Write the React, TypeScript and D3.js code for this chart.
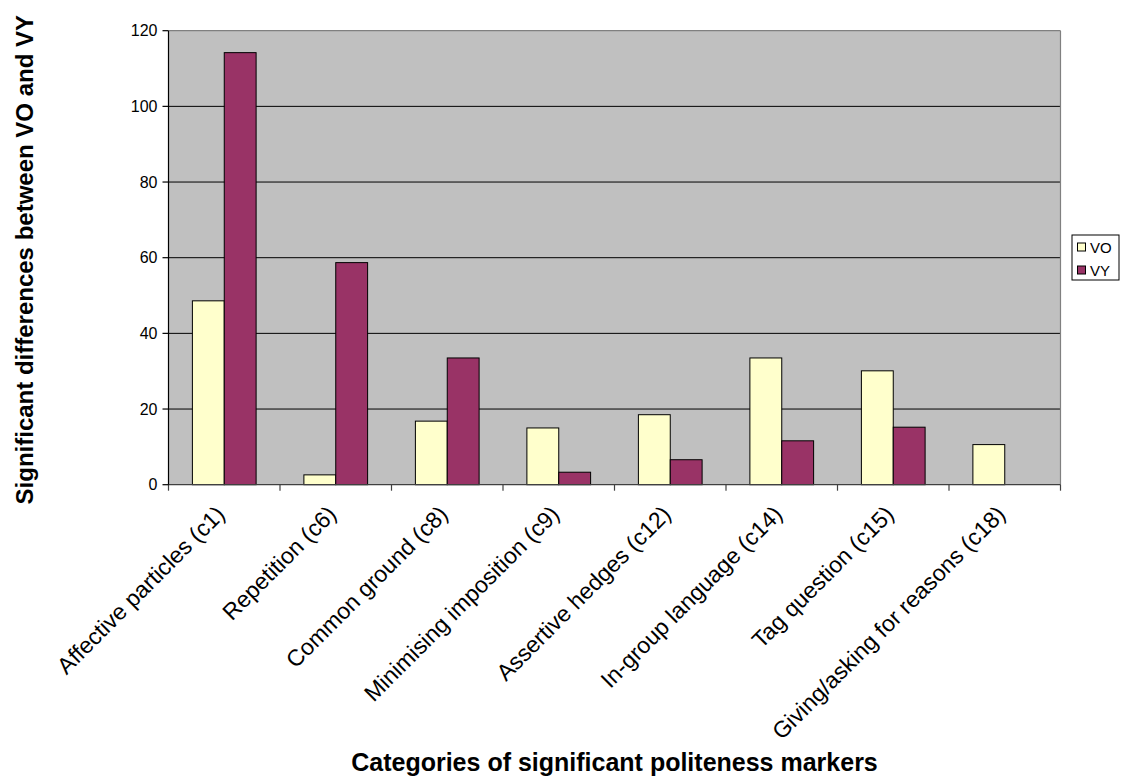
import React from "react";
import * as d3 from "d3";

const categories = [
  "Affective particles (c1)",
  "Repetition (c6)",
  "Common ground (c8)",
  "Minimising imposition (c9)",
  "Assertive hedges (c12)",
  "In-group language (c14)",
  "Tag question (c15)",
  "Giving/asking for reasons (c18)",
];
const seriesNames = ["VO", "VY"];
const voValues = [48.6, 2.6, 16.8, 15.0, 18.5, 33.5, 30.1, 10.6];
const vyValues = [114.2, 58.7, 33.5, 3.3, 6.6, 11.6, 15.2, 0];
const yTicks = [0, 20, 40, 60, 80, 100, 120];
const colors: Record<string, string> = { VO: "#FFFFCC", VY: "#993366" };

const W = 1122;
const H = 777;
const left = 168.5;
const right = 1060.5;
const top = 30.7;
const bottom = 484.7;
const FONT = "'Liberation Sans', Arial, Helvetica, sans-serif";

export default function App() {
  const x = d3.scaleBand<string>().domain(categories).range([left, right]).padding(0);
  const x1 = d3
    .scaleBand<string>()
    .domain(seriesNames)
    .range([0, x.bandwidth()])
    .paddingInner(0)
    .paddingOuter(0.75);
  const y = d3.scaleLinear().domain([0, 120]).range([bottom, top]);
  const data: Record<string, number[]> = { VO: voValues, VY: vyValues };

  const tickXs = categories.map((c) => x(c) as number).concat([right]);

  return (
    <svg
      width={W}
      height={H}
      style={{ position: "absolute", left: 0, top: 0, background: "#fff" }}
      fontFamily={FONT}
    >
      <rect x={left} y={top} width={right - left} height={bottom - top} fill="#C0C0C0" />
      {yTicks
        .filter((t) => t > 0 && t < 120)
        .map((t) => (
          <line key={t} x1={left} x2={right} y1={y(t)} y2={y(t)} stroke="#000" strokeWidth={1} />
        ))}
      <line x1={left} x2={right} y1={top} y2={top} stroke="#808080" strokeWidth={1.2} />
      <line x1={right} x2={right} y1={top} y2={bottom} stroke="#808080" strokeWidth={1.2} />

      {categories.map((c, i) => (
        <g key={c}>
          {seriesNames.map((s) => {
            const v = data[s][i];
            if (!v) return null;
            const bx = (x(c) as number) + (x1(s) as number);
            return (
              <rect
                key={s}
                x={bx}
                y={y(v)}
                width={x1.bandwidth()}
                height={bottom - y(v)}
                fill={colors[s]}
                stroke="#000"
                strokeWidth={1}
              />
            );
          })}
        </g>
      ))}

      <line x1={left} x2={right} y1={bottom} y2={bottom} stroke="#404040" strokeWidth={1.2} />
      {tickXs.map((tx, i) => (
        <line key={i} x1={tx} x2={tx} y1={bottom} y2={bottom + 6} stroke="#404040" strokeWidth={1.2} />
      ))}
      <line x1={left} x2={left} y1={top} y2={bottom} stroke="#000" strokeWidth={1.2} />
      {yTicks.map((t) => (
        <g key={t}>
          <line x1={left - 6} x2={left} y1={y(t)} y2={y(t)} stroke="#000" strokeWidth={1.2} />
          <text x={left - 11} y={y(t)} dy="0.35em" textAnchor="end" fontSize={16} fill="#000">
            {t}
          </text>
        </g>
      ))}

      {categories.map((c) => {
        const cx = (x(c) as number) + x.bandwidth() / 2;
        return (
          <text
            key={c}
            transform={`translate(${cx + 2},${bottom + 31}) rotate(-45)`}
            textAnchor="end"
            fontSize={23}
            fill="#000"
          >
            {c}
          </text>
        );
      })}

      <text
        x={(left + right) / 2}
        y={771}
        textAnchor="middle"
        fontSize={25}
        fontWeight="bold"
        fill="#000"
      >
        Categories of significant politeness markers
      </text>
      <text
        transform={`translate(33,${(top + bottom) / 2 + 2}) rotate(-90)`}
        textAnchor="middle"
        fontSize={24}
        fontWeight="bold"
        fill="#000"
      >
        Significant differences between VO and VY
      </text>

      <rect x={1072} y={235} width={47} height={45} fill="#fff" stroke="#000" strokeWidth={1} />
      {seriesNames.map((s, i) => (
        <g key={s}>
          <rect x={1077.5} y={243 + i * 23} width={8} height={8} fill={colors[s]} stroke="#000" strokeWidth={1} />
          <text x={1090} y={253 + i * 23} fontSize={15} fill="#000">
            {s}
          </text>
        </g>
      ))}
    </svg>
  );
}
